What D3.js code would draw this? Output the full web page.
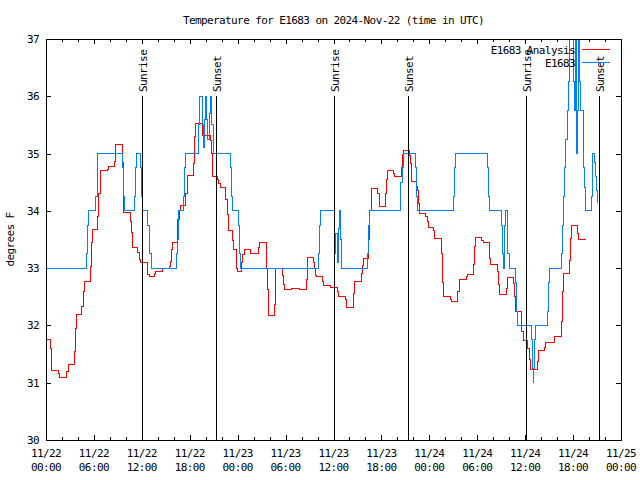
<!DOCTYPE html>
<html><head><meta charset="utf-8">
<script src="https://cdn.jsdelivr.net/npm/d3@7"></script>
<style>
body{margin:0;background:#fff;}
svg{display:block;background:#fff;}
text{font-family:"DejaVu Sans Mono",monospace;font-size:11px;letter-spacing:-0.6px;fill:#000;}
</style></head><body>
<svg id="chart" width="640" height="480"></svg>
<script>
const chartTitle = "Temperature for E1683 on 2024-Nov-22 (time in UTC)";
const yAxisLabel = "degrees F";
const seriesNames = ["E1683 Analysis", "E1683"];
const seriesColors = ["#ff0000", "#0080ff"];
const startUTC = Date.UTC(2024, 10, 22, 0, 0);
const endUTC = Date.UTC(2024, 10, 25, 0, 0);
const yTickValues = [30, 31, 32, 33, 34, 35, 36, 37];

// hours since 2024-11-22 00:00 UTC
const analysisHours = [0,0.58,0.71,1.55,1.7,2.6,2.8,3.6,3.72,3.85,4.5,4.7,4.84,5.6,5.72,5.8,6.5,6.63,6.8,7.64,7.8,8.6,8.68,8.76,9.64,9.72,10.52,10.68,10.8,11.48,11.69,11.85,12.65,12.77,12.9,13.56,13.77,14.6,15.44,15.56,15.73,15.86,16.44,16.7,16.78,17.5,17.66,18.5,18.62,18.75,19.58,20.54,20.67,20.79,21.46,21.63,21.8,22.5,22.67,22.8,23.37,23.5,23.8,23.9,24.0,24.5,24.62,24.8,25.62,26.6,26.7,27.55,27.7,27.8,28.6,28.72,29.63,29.76,29.84,30.68,31.68,32.6,32.72,33.5,33.6,33.75,33.9,34.64,34.77,35.6,36.48,36.65,37.48,37.65,38.48,38.65,39.48,39.6,39.73,40.36,40.5,40.74,41.49,41.7,41.82,42.53,42.66,42.74,43.53,43.7,44.49,44.6,44.74,45.5,45.67,45.75,46.42,46.58,46.7,46.8,47.54,47.71,47.92,48.5,48.67,49.5,49.6,49.76,50.59,50.72,51.55,51.76,52.6,52.76,53.51,53.68,53.8,54.51,54.77,55.52,55.68,56.52,56.6,56.77,57.6,57.73,58.52,58.69,58.81,59.48,59.6,59.73,60.27,60.52,60.69,61.52,61.69,62.44,62.6,63.7,64.5,64.65,64.78,65.53,65.66,65.78,66.57,66.74,67.62];
const analysisTemps = [31.75,31.6,31.22,31.16,31.09,31.2,31.32,31.54,31.95,32.19,32.33,32.6,32.76,33.03,33.44,33.68,33.9,34.3,34.7,34.73,34.78,34.86,35.0,35.16,34.85,33.97,33.82,33.62,33.36,33.27,33.15,33.1,32.98,32.89,32.85,32.9,32.95,33.0,33.03,33.12,33.33,33.44,33.85,34.0,34.1,34.3,34.61,34.83,35.3,35.53,35.32,35.23,35.0,34.6,34.55,34.47,34.4,34.2,33.94,33.65,33.49,33.32,33.09,33.0,32.95,33.1,33.23,33.32,33.26,33.36,33.45,33.0,32.62,32.17,32.37,33.0,32.88,32.72,32.63,32.65,32.63,32.8,33.19,33.1,33.0,32.88,32.86,32.76,32.69,32.67,32.6,32.5,32.45,32.32,32.55,32.76,32.9,33.05,33.17,33.5,34.0,34.39,34.3,34.16,34.07,34.3,34.54,34.71,34.65,34.6,34.75,34.98,35.05,34.97,34.83,34.52,34.42,34.36,34.13,33.96,33.9,33.81,33.71,33.65,33.52,33.26,32.75,32.51,32.46,32.42,32.6,32.8,32.85,32.89,33.06,33.38,33.54,33.49,33.45,33.17,33.07,32.94,32.71,32.54,32.65,32.84,32.74,32.5,32.25,32.12,31.9,31.73,31.6,31.4,31.23,31.37,31.57,31.61,31.7,31.8,32.07,32.6,32.9,33.13,33.52,33.74,33.6,33.5,33.5];

const sensorHours = [0,5.05,5.18,5.3,6.26,6.39,6.51,9.6,9.72,9.8,11.06,11.19,11.31,11.85,11.98,12.06,12.73,12.9,13.02,13.15,16.36,16.48,16.57,17.27,17.4,17.53,19.11,19.28,19.61,19.7,19.85,19.95,20.11,20.28,20.45,20.55,20.78,20.95,23.12,23.24,23.37,24.12,24.25,24.37,34.1,34.22,34.35,36.17,36.3,36.45,36.6,36.73,36.85,36.98,40.24,40.36,40.49,44.45,44.6,44.75,46.29,46.42,46.54,51.0,51.13,51.26,55.27,55.39,55.52,57.06,57.19,57.31,57.44,57.52,57.73,57.85,58.0,58.73,58.86,59.02,60.77,60.9,61.0,61.05,61.15,61.27,62.77,62.9,63.02,64.57,64.7,64.82,64.95,65.11,65.28,65.4,65.53,66.05,66.17,66.3,66.42,66.5,66.7,66.83,66.92,67.3,67.42,67.55,68.28,68.4,68.65,68.8,68.92,69.05,69.1];
const sensorTemps = [33,33.25,33.75,34,34.25,34.75,35,34.75,34.25,34,34.25,34.75,35,34.75,34.25,34,33.75,33.5,33.25,33,33.25,33.5,34,34.25,34.75,35,35.5,36,35.5,35.1,35.6,36,35.6,35.25,35.7,36,35.5,35,34.75,34.25,34,33.75,33.25,33,33.25,33.75,34,33.25,33.6,33.1,33.7,34,33.5,33,33.25,33.75,34,34.5,34.75,35,34.75,34.25,34,34.25,34.75,35,34.75,34.25,34,33.75,33.25,33,33.75,34,33.75,33.25,33,32.75,32.25,32,31.75,31.25,31,31.25,31.75,32,32.25,32.75,33,33.25,33.75,34.25,34.75,35.25,35.75,36.25,37.6,36.25,35.75,37.6,35,35.75,37.6,36.25,35.75,34.75,34.4,34,34.25,35,34.85,34.6,34.35,34.15,34.15];

const sunEventHours = [12.07, 21.32, 36.08, 45.27, 60.05, 69.3];
const sunEventNames = ["Sunrise", "Sunset", "Sunrise", "Sunset", "Sunrise", "Sunset"];

const svg = d3.select("#chart");
const plotL = 46, plotR = 621, plotT = 39, plotB = 440;
const toDate = h => new Date(startUTC + h * 3600e3);
const x = d3.scaleUtc().domain([new Date(startUTC), new Date(endUTC)]).range([plotL, plotR]);
const y = d3.scaleLinear().domain([30, 37]).range([plotB, plotT]);

svg.append("rect").attr("width", 640).attr("height", 480).attr("fill", "#fff");

svg.append("defs").append("clipPath").attr("id", "clip")
  .append("rect").attr("x", plotL).attr("y", plotT).attr("width", plotR - plotL).attr("height", plotB - plotT);

// axes ticks
const majorT = d3.utcHour.every(6), minorT = d3.utcHour.every(2);
function styleAxis(g){ g.select(".domain").remove(); g.selectAll("line").attr("stroke","#000").attr("shape-rendering","crispEdges"); }
svg.append("g").attr("transform",`translate(0,${plotB})`).call(d3.axisBottom(x).ticks(minorT).tickSize(-3).tickFormat("")).call(styleAxis);
svg.append("g").attr("transform",`translate(0,${plotB})`).call(d3.axisBottom(x).ticks(majorT).tickSize(-5).tickFormat("")).call(styleAxis);
svg.append("g").attr("transform",`translate(0,${plotT})`).call(d3.axisTop(x).ticks(minorT).tickSize(-3).tickFormat("")).call(styleAxis);
svg.append("g").attr("transform",`translate(0,${plotT})`).call(d3.axisTop(x).ticks(majorT).tickSize(-5).tickFormat("")).call(styleAxis);
const yl = svg.append("g").attr("transform",`translate(${plotL},0)`).call(d3.axisLeft(y).tickValues(yTickValues).tickSize(-5).tickPadding(7).tickFormat(d3.format("d"))).call(styleAxis);
yl.selectAll("text").attr("font-size",null).attr("font-family",null).attr("fill","#000");
svg.append("g").attr("transform",`translate(${plotR},0)`).call(d3.axisRight(y).tickValues(yTickValues).tickSize(-5).tickFormat("")).call(styleAxis);

// x tick labels (two lines)
const fmtD = d3.utcFormat("%m/%d"), fmtT = d3.utcFormat("%H:%M");
const xl = svg.append("g").selectAll("text").data(x.ticks(majorT)).join("text")
  .attr("text-anchor","middle");
xl.append("tspan").attr("x", d => x(d)).attr("y", 457).text(d => fmtD(d));
xl.append("tspan").attr("x", d => x(d)).attr("y", 471).text(d => fmtT(d));

// data
const line = d3.line().x(d => x(toDate(d[0]))).y(d => y(d[1])).curve(d3.curveStepAfter);
const plot = svg.append("g").attr("clip-path","url(#clip)");
const analysis = analysisHours.map((h,i) => [h, analysisTemps[i]]);
const sensor = sensorHours.map((h,i) => [h, sensorTemps[i]]);
plot.append("path").datum(analysis).attr("d", line).attr("fill","none").attr("stroke",seriesColors[0]).attr("stroke-width",1).attr("shape-rendering","crispEdges");
plot.append("path").datum(sensor).attr("d", line).attr("fill","none").attr("stroke",seriesColors[1]).attr("stroke-width",1).attr("shape-rendering","crispEdges");

// sunrise / sunset
const sun = svg.append("g");
sunEventHours.forEach((h,i) => {
  const sx = Math.round(x(toDate(h))) + 0.5;
  sun.append("line").attr("x1",sx).attr("x2",sx).attr("y1",y(36)).attr("y2",plotB)
    .attr("stroke","#000").attr("shape-rendering","crispEdges");
  sun.append("text").attr("transform",`translate(${sx+4.5},92) rotate(-90)`).attr("text-anchor","start").text(sunEventNames[i]);
});

// border
svg.append("rect").attr("x",plotL+0.5).attr("y",plotT+0.5).attr("width",plotR-plotL).attr("height",plotB-plotT)
  .attr("fill","none").attr("stroke","#000").attr("shape-rendering","crispEdges");

// title & labels
svg.append("text").attr("x",(plotL+plotR)/2).attr("y",24).attr("text-anchor","middle").text(chartTitle);
svg.append("text").attr("transform",`translate(14,${(plotT+plotB)/2}) rotate(-90)`).attr("text-anchor","middle").text(yAxisLabel);

// legend
const legY = [49.5, 62.5];
seriesNames.forEach((n,i) => {
  svg.append("text").attr("x",575).attr("y",legY[i]+4).attr("text-anchor","end").text(n);
  svg.append("line").attr("x1",582).attr("x2",610).attr("y1",legY[i]).attr("y2",legY[i])
    .attr("stroke",seriesColors[i]).attr("shape-rendering","crispEdges");
});
</script>
</body></html>
